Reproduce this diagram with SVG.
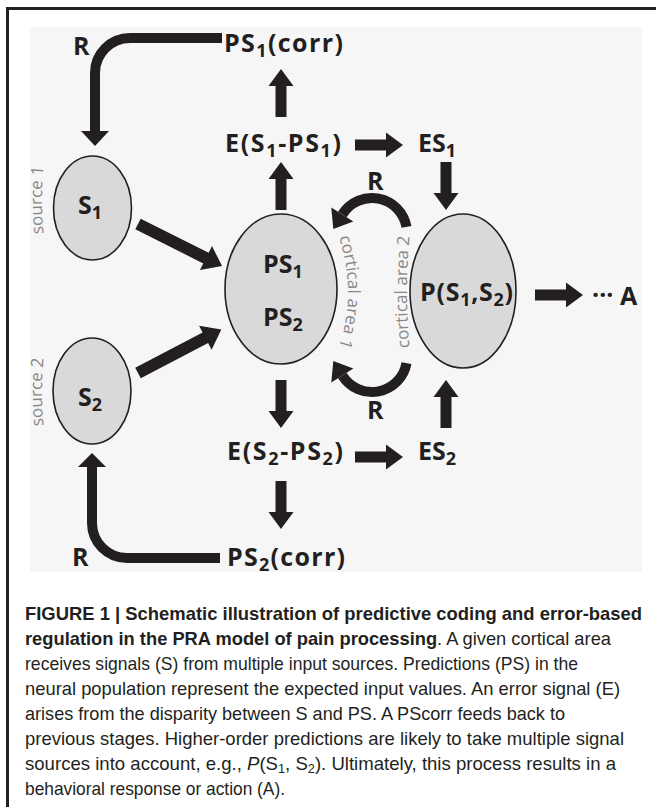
<svg xmlns="http://www.w3.org/2000/svg" width="656" height="807" viewBox="0 0 656 807">
<defs>
<style>
.t{font-family:"Open Sans","Liberation Sans",sans-serif;font-weight:700;font-size:25px;fill:#231f20}
.g{font-family:"Open Sans","Liberation Sans",sans-serif;font-size:17px;fill:#888888}
.cap{font-family:"Liberation Sans",Arial,sans-serif;font-size:19px;fill:#231f20}
.b{font-weight:bold}
.el{fill:#d9d9d9;stroke:#231f20;stroke-width:1.6}
.ln{fill:none;stroke:#231f20;stroke-width:10}
.ah{fill:#231f20}
</style>
<path id="ar" d="M0,-5.5H31V-12.5L48,0L31,12.5V5.5H0Z"/>
<path id="arL" d="M0,-6H76V-13.5L94,0L76,13.5V6H0Z"/>
<path id="pSrc1" d="M44,240 Q40,200 44,160"/>
<path id="pSrc2" d="M44,430 Q40,392 44,354"/>
<path id="pCa1" d="M337,232 Q359,292 337,352"/>
<path id="pCa2" d="M410,352 Q404,292 410,232"/>
</defs>
<rect width="656" height="807" fill="#ffffff"/>
<rect x="30" y="27" width="612" height="545" fill="#f6f6f6"/>
<g id="frame" stroke="#231f20" stroke-width="3">
<line x1="7" y1="8.5" x2="656" y2="8.5"/>
<line x1="7.5" y1="7" x2="7.5" y2="807"/>
</g>

<g id="connectors">
<path class="ln" d="M222,38 H130 A35,35 0 0 0 95,73 V132"/>
<polygon class="ah" points="81,131 109,131 95,146"/>
<path class="ln" d="M220,558 H127 A35,35 0 0 1 92,523 V466"/>
<polygon class="ah" points="78,467 106,467 92,453"/>
<path class="ln" d="M406.5,226.9 A35,35 0 0 0 342.3,214.5"/>
<polygon class="ah" points="353.3,221.4 331.3,207.6 333.3,228.9"/>
<path class="ln" d="M406.5,363.1 A35,35 0 0 1 342.3,375.5"/>
<polygon class="ah" points="353.3,368.6 331.3,382.4 333.3,361.1"/>
<g class="ah">
<use href="#ar" transform="translate(281,117) rotate(-90)"/>
<use href="#ar" transform="translate(281,210) rotate(-90)"/>
<use href="#ar" transform="translate(281,380) rotate(90)"/>
<use href="#ar" transform="translate(281,481) rotate(90)"/>
<use href="#ar" transform="translate(355,145)"/>
<use href="#ar" transform="translate(355,457)"/>
<use href="#ar" transform="translate(446,162) rotate(90)"/>
<use href="#ar" transform="translate(446,428) rotate(-90)"/>
<use href="#ar" transform="translate(535,295)"/>
<use href="#arL" transform="translate(138,224) rotate(26.6)"/>
<use href="#arL" transform="translate(138,373) rotate(-27.6)"/>
</g>
<text class="t" x="73" y="55">R</text>
<text class="t" x="72" y="566">R</text>
<text class="t" x="367" y="190">R</text>
<text class="t" x="367" y="419">R</text>
<text class="g"><textPath href="#pCa1" startOffset="50%" text-anchor="middle">cortical area 1</textPath></text>
<text class="g"><textPath href="#pCa2" startOffset="50%" text-anchor="middle">cortical area 2</textPath></text>
</g>

<g id="S1">
<ellipse class="el" cx="92.5" cy="208" rx="39" ry="52"/>
<text class="t" x="78" y="214">S<tspan font-size="18" dy="5">1</tspan></text>
<text class="g"><textPath href="#pSrc1" startOffset="50%" text-anchor="middle">source 1</textPath></text>
</g>
<g id="S2">
<ellipse class="el" cx="92" cy="391" rx="39" ry="53"/>
<text class="t" x="78" y="406">S<tspan font-size="18" dy="5">2</tspan></text>
<text class="g"><textPath href="#pSrc2" startOffset="50%" text-anchor="middle">source 2</textPath></text>
</g>
<g id="PS">
<ellipse class="el" cx="281" cy="289" rx="56" ry="75"/>
<text class="t" x="263" y="273">PS<tspan font-size="18" dy="5">1</tspan></text>
<text class="t" x="263" y="326">PS<tspan font-size="18" dy="5">2</tspan></text>
</g>
<g id="P">
<ellipse class="el" cx="463" cy="291" rx="53" ry="77"/>
<text class="t" x="420" y="301" textLength="93">P(S<tspan font-size="18" dy="5">1</tspan><tspan dy="-5">,S</tspan><tspan font-size="18" dy="5">2</tspan><tspan dy="-5">)</tspan></text>
</g>
<g id="PS1corr">
<text class="t" x="224" y="52" textLength="119">PS<tspan font-size="18" dy="5">1</tspan><tspan dy="-5">(corr)</tspan></text>
</g>
<g id="E1">
<text class="t" x="225" y="152" textLength="116">E(S<tspan font-size="18" dy="5">1</tspan><tspan dy="-5">-PS</tspan><tspan font-size="18" dy="5">1</tspan><tspan dy="-5">)</tspan></text>
</g>
<g id="ES1">
<text class="t" x="418" y="152">ES<tspan font-size="18" dy="5">1</tspan></text>
</g>
<g id="E2">
<text class="t" x="227" y="460" textLength="116">E(S<tspan font-size="18" dy="5">2</tspan><tspan dy="-5">-PS</tspan><tspan font-size="18" dy="5">2</tspan><tspan dy="-5">)</tspan></text>
</g>
<g id="ES2">
<text class="t" x="418" y="460">ES<tspan font-size="18" dy="5">2</tspan></text>
</g>
<g id="PS2corr">
<text class="t" x="227" y="566" textLength="118">PS<tspan font-size="18" dy="5">2</tspan><tspan dy="-5">(corr)</tspan></text>
</g>
<g id="A">
<text class="t" x="592" y="304" font-size="20">···</text>
<text class="t" x="620" y="305">A</text>
</g>

<g id="caption" class="cap">
<text x="25" y="620" textLength="617" lengthAdjust="spacingAndGlyphs" class="b">FIGURE 1 | Schematic illustration of predictive coding and error-based</text>
<text x="25" y="645" textLength="586" lengthAdjust="spacingAndGlyphs"><tspan class="b">regulation in the PRA model of pain processing</tspan>. A given cortical area</text>
<text x="25" y="670" textLength="553" lengthAdjust="spacingAndGlyphs">receives signals (S) from multiple input sources. Predictions (PS) in the</text>
<text x="25" y="695" textLength="595" lengthAdjust="spacingAndGlyphs">neural population represent the expected input values. An error signal (E)</text>
<text x="25" y="720" textLength="540" lengthAdjust="spacingAndGlyphs">arises from the disparity between S and PS. A PScorr feeds back to</text>
<text x="25" y="745" textLength="599" lengthAdjust="spacingAndGlyphs">previous stages. Higher-order predictions are likely to take multiple signal</text>
<text x="25" y="770" textLength="591" lengthAdjust="spacingAndGlyphs">sources into account, e.g., <tspan font-style="italic">P</tspan>(S<tspan font-size="13" dy="3">1</tspan><tspan dy="-3">, S</tspan><tspan font-size="13" dy="3">2</tspan><tspan dy="-3">). Ultimately, this process results in a</tspan></text>
<text x="25" y="795" textLength="260" lengthAdjust="spacingAndGlyphs">behavioral response or action (A).</text>
</g>
</svg>
